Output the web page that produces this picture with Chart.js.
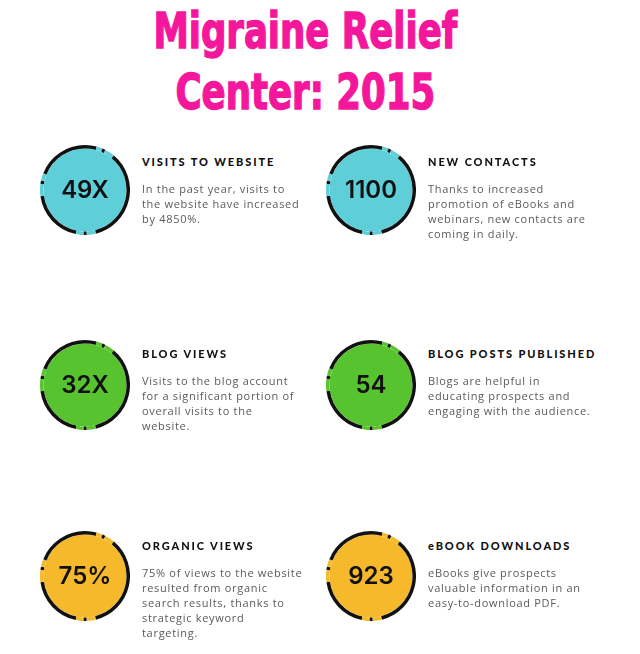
<!DOCTYPE html>
<html>
<head>
<meta charset="utf-8">
<script src="https://cdn.jsdelivr.net/npm/chart.js@4.4.0/dist/chart.umd.min.js"></script>
<style>
  body { margin: 0; background: #fff; width: 640px; height: 654px; position: relative; overflow: hidden; }
  .title { position: absolute; left: 0; top: 1px; width: 610px; text-align: center; color: #f5179b;
    font-family: "Liberation Sans Narrow", "DejaVu Sans Condensed", sans-serif; font-weight: bold;
    font-size: 50px; line-height: 61px; -webkit-text-stroke: 1.4px #f5179b; }
  .title span { display: inline-block; transform: scaleX(0.79); }
  .stat { position: absolute; width: 90px; height: 90px; }
  .stat canvas { position: absolute; left: 0; top: 0; }
  .val { position: absolute; left: 0; top: 0; width: 90px; height: 90px; line-height: 90px; text-align: center;
    font-family: Inter, sans-serif; font-weight: 600; font-size: 24px; color: #111; }
  .head { position: absolute; font-family: Lato, sans-serif; font-weight: 900; font-size: 11px; line-height: 12px;
    letter-spacing: 1.9px; color: #111; white-space: nowrap; }
  .desc { position: absolute; font-family: "Open Sans", sans-serif; font-size: 11px; line-height: 15px;
    letter-spacing: 0.7px; color: #5a5a5a; white-space: nowrap; }
</style>
</head>
<body>
<div class="title" id="title"></div>
<script>
const titleLines = ['Migraine Relief', 'Center: 2015']
const statValues = ['49X', '1100', '32X', '54', '75%', '923']
const statTitles = ['VISITS TO WEBSITE', 'NEW CONTACTS', 'BLOG VIEWS', 'BLOG POSTS PUBLISHED', 'ORGANIC VIEWS', 'eBOOK DOWNLOADS']
const statTexts = [
    ['In the past year, visits to', 'the website have increased', 'by 4850%.'],
    ['Thanks to increased', 'promotion of eBooks and', 'webinars, new contacts are', 'coming in daily.'],
    ['Visits to the blog account', 'for a significant portion of', 'overall visits to the', 'website.'],
    ['Blogs are helpful in', 'educating prospects and', 'engaging with the audience.'],
    ['75% of views to the website', 'resulted from organic', 'search results, thanks to', 'strategic keyword', 'targeting.'],
    ['eBooks give prospects', 'valuable information in an', 'easy-to-download PDF.']
]
const statColors = ['#5ecfd9', '#5ecfd9', '#57c42f', '#57c42f', '#f7b92c', '#f7b92c']

// ring around each disc, degrees clockwise from the top: dash, gap, dot, gap ...
const ringArcs = [15, 8, 4, 13, 126, 12, 4, 10, 70, 16, 4, 10, 68]
const ringInk = [1, 0, 1, 0, 1, 0, 1, 0, 1, 0, 1, 0, 1]

// layout
const colLeft = [40, 326]
const rowCenter = [190, 385, 576]
const headCenter = [162, 354, 546]

document.getElementById('title').innerHTML = titleLines.map(t => '<span>' + t + '</span>').join('<br>')

statValues.forEach((v, i) => {
    const col = i % 2
    const row = Math.floor(i / 2)
    const color = statColors[i]

    const box = document.createElement('div')
    box.className = 'stat'
    box.style.left = colLeft[col] + 'px'
    box.style.top = (rowCenter[row] - 45) + 'px'
    const cv = document.createElement('canvas')
    cv.width = 90
    cv.height = 90
    box.appendChild(cv)
    const val = document.createElement('div')
    val.className = 'val'
    val.textContent = v
    box.appendChild(val)
    document.body.appendChild(box)

    const head = document.createElement('div')
    head.className = 'head'
    head.textContent = statTitles[i]
    head.style.left = (colLeft[col] + 102) + 'px'
    head.style.top = (headCenter[row] - 6) + 'px'
    document.body.appendChild(head)

    const desc = document.createElement('div')
    desc.className = 'desc'
    desc.innerHTML = statTexts[i].join('<br>')
    desc.style.left = (colLeft[col] + 102) + 'px'
    desc.style.top = (headCenter[row] + 19) + 'px'
    document.body.appendChild(desc)

    new Chart(cv, {
        type: 'pie',
        data: {
            labels: ringArcs.map((a, k) => 'arc ' + k),
            datasets: [
                { data: ringArcs, backgroundColor: ringInk.map(k => k ? '#111111' : color), borderWidth: 0, weight: 3.5 },
                { data: [1], backgroundColor: color, borderWidth: 0, weight: 41.5 }
            ]
        },
        options: {
            responsive: false,
            animation: false,
            events: [],
            layout: { padding: 0 },
            plugins: { legend: { display: false }, tooltip: { enabled: false } }
        }
    })
})
</script>
</body>
</html>
